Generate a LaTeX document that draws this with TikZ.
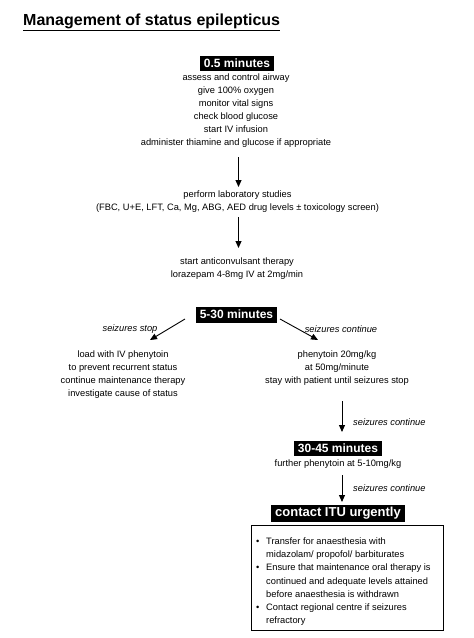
\documentclass[tikz,border=0pt]{standalone}
\usepackage{fontspec}
\setmainfont{Liberation Sans}
\usetikzlibrary{arrows.meta}
\begin{document}
\begin{tikzpicture}[x=1pt,y=-1pt,
  every node/.style={inner sep=0pt},
  body/.style={align=center, font=\fontsize{9.3}{13}\selectfont},
  hdr/.style={fill=black, text=white, font=\fontsize{12}{14}\selectfont\bfseries, inner xsep=4pt, minimum height=15pt},
  lbl/.style={font=\fontsize{9.3}{11}\selectfont\itshape},
  arr/.style={draw=black, line width=0.9pt, -{Triangle[width=6pt,length=7pt]}}
]
\fill[white] (0,0) rectangle (474,638);
\useasboundingbox (0,0) rectangle (474,638);

\node[font=\fontsize{16}{18}\selectfont\bfseries, anchor=base west] (title) at (23,25) {\underline{Management of status epilepticus}};

\node[hdr] (h1) at (237,63) {0.5 minutes};
\node[body] (b1) at (236,110.5) {assess and control airway\\give 100\% oxygen\\monitor vital signs\\check blood glucose\\start IV infusion\\administer thiamine and glucose if appropriate};
\node[body] (b2) at (237.5,201.3) {perform laboratory studies\\(FBC, U+E, LFT, Ca, Mg, ABG, AED drug levels ± toxicology screen)};
\node[body] (b3) at (237,268.3) {start anticonvulsant therapy\\lorazepam 4-8mg IV at 2mg/min};
\node[hdr, minimum height=16pt] (h2) at (236.5,314.7) {5-30 minutes};
\node[lbl] (ls) at (130,329) {seizures stop};
\node[lbl] (rs) at (341,329) {seizures continue};
\node[body] (L) at (123,375) {load with IV phenytoin\\to prevent recurrent status\\continue maintenance therapy\\investigate cause of status};
\node[body] (R) at (337,368) {phenytoin 20mg/kg\\at 50mg/minute\\stay with patient until seizures stop};
\node[lbl, anchor=west] (c1) at (353,422) {seizures continue};
\node[hdr] (h3) at (338,448.7) {30-45 minutes};
\node[body] (b4) at (338,464) {further phenytoin at 5-10mg/kg};
\node[lbl, anchor=west] (c2) at (353,488) {seizures continue};
\node[hdr, font=\fontsize{13}{15}\selectfont\bfseries, minimum height=16.5pt] (h4) at (338,513.5) {contact ITU urgently};
\node[draw, line width=0.8pt, minimum width=192pt, minimum height=105pt] (box) at (347,578) {};
\node[anchor=north west, font=\fontsize{9.3}{13.2}\selectfont] (bt) at (256,535)
 {\begin{tabular}{@{}p{10pt}@{}l@{}}
  \textbullet & Transfer for anaesthesia with\\
   & midazolam/ propofol/ barbiturates\\
  \textbullet & Ensure that maintenance oral therapy is\\
   & continued and adequate levels attained\\
   & before anaesthesia is withdrawn\\
  \textbullet & Contact regional centre if seizures\\
   & refractory
 \end{tabular}};

\coordinate (a1s) at (238.5,157);
\coordinate (a1e) at (238.5,187);
\coordinate (a2s) at (238.5,217);
\coordinate (a2e) at (238.5,248);
\coordinate (a3s) at (185,319);
\coordinate (a3e) at (150,340);
\coordinate (a4s) at (280,319);
\coordinate (a4e) at (318,340);
\coordinate (a5s) at (342,401);
\coordinate (a5e) at (342,432);
\coordinate (a6s) at (342,475);
\coordinate (a6e) at (342,502);
\draw[arr] (a1s) -- (a1e);
\draw[arr] (a2s) -- (a2e);
\draw[arr] (a3s) -- (a3e);
\draw[arr] (a4s) -- (a4e);
\draw[arr] (a5s) -- (a5e);
\draw[arr] (a6s) -- (a6e);
\end{tikzpicture}
\end{document}
